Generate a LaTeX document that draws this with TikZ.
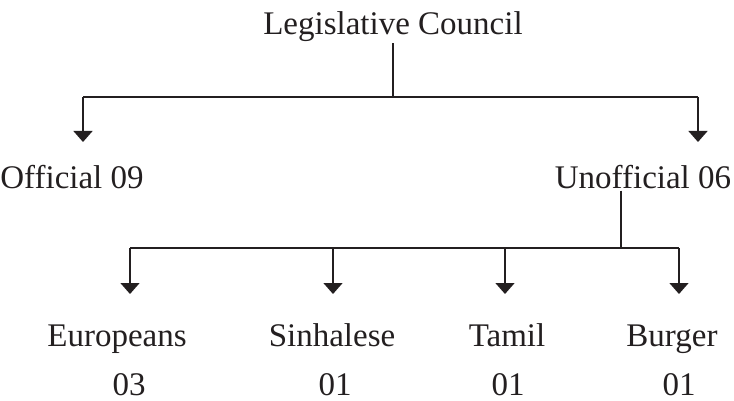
\documentclass[tikz,border=0pt]{standalone}
\usepackage{fontspec}
\setmainfont{Liberation Serif}
\usetikzlibrary{arrows.meta}
\definecolor{ink}{RGB}{35,31,32}
\tikzset{
  lbl/.style={anchor=base, inner sep=1pt, text=ink, font=\fontsize{33}{38}\selectfont},
  conn/.style={line width=1.5pt, draw=ink},
  arr/.style={conn, -{Triangle[width=19pt,length=11pt]}}
}
\begin{document}
\begin{tikzpicture}[x=1pt,y=-1pt]
\useasboundingbox (0,0) rectangle (734,401);
% labels
\node[lbl] (council) at (393,35) {Legislative Council};
\node[lbl] (official) at (72,189) {Official 09};
\node[lbl] (unofficial) at (643,189) {Unofficial 06};
\node[lbl] (europeans) at (117,346) {Europeans};
\node[lbl] (sinhalese) at (332,346) {Sinhalese};
\node[lbl] (tamil) at (507,346) {Tamil};
\node[lbl] (burger) at (672,346) {Burger};
\node[lbl] (neuro) at (129,395) {03};
\node[lbl] (nsinh) at (335,395) {01};
\node[lbl] (ntamil) at (508,395) {01};
\node[lbl] (nburg) at (679,395) {01};
% junctions and arrow tips
\coordinate (top) at (393,97);
\coordinate (tl) at (83,97);
\coordinate (tr) at (698,97);
\coordinate (aofficial) at (83,142);
\coordinate (aunofficial) at (698,142);
\coordinate (bot) at (621,248);
\coordinate (aeuro) at (130,294);
\coordinate (asinh) at (333,294);
\coordinate (atamil) at (505,294);
\coordinate (aburg) at (679,294);
% connectors
\draw[conn] (council.south) -- (top);
\draw[conn] (tl) -- (tr);
\draw[arr] (tl) -- (aofficial);
\draw[arr] (tr) -- (aunofficial);
\draw[conn] (unofficial.south -| bot) -- (bot);
\draw[conn] (aeuro |- bot) -- (aburg |- bot);
\foreach \t in {aeuro,asinh,atamil,aburg}
  \draw[arr] (\t |- bot) -- (\t);
\end{tikzpicture}
\end{document}
